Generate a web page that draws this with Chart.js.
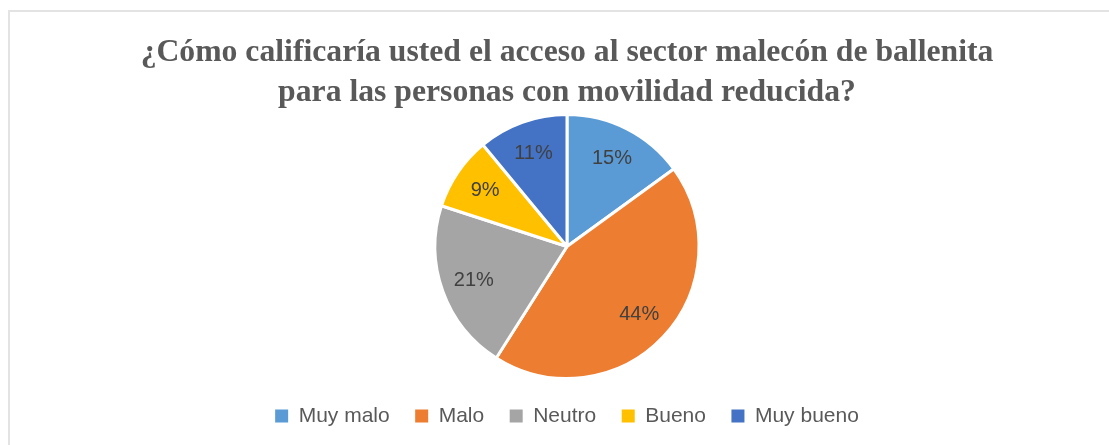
<!DOCTYPE html>
<html>
<head>
<meta charset="utf-8">
<script src="https://cdn.jsdelivr.net/npm/chart.js@4.4.1/dist/chart.umd.min.js"></script>
<style>
  html, body { margin: 0; padding: 0; background: #ffffff; overflow: hidden; }
  #frame { position: absolute; left: 8px; top: 10px; width: 1120px; height: 450px;
           border: 2px solid #e3e3e3; box-sizing: border-box; }
  #c { position: absolute; left: 0; top: 0; }
</style>
</head>
<body>
<div id="frame"></div>
<canvas id="c" width="1109" height="445"></canvas>
<script>
const titleLines = [
  "¿Cómo calificaría usted el acceso al sector malecón de ballenita",
  "para las personas con movilidad reducida?"
];
const categories = ["Muy malo", "Malo", "Neutro", "Bueno", "Muy bueno"];
const percentages = [15, 44, 21, 9, 11];
const sliceColors = ["#5B9BD5", "#ED7D31", "#A5A5A5", "#FFC000", "#4472C4"];

const pctLabels = {
  id: 'pctLabels',
  afterDatasetsDraw(chart) {
    const ctx = chart.ctx;
    const meta = chart.getDatasetMeta(0);
    const data = chart.data.datasets[0].data;
    ctx.save();
    ctx.font = '20px "Liberation Sans", Arial, sans-serif';
    ctx.fillStyle = '#404040';
    ctx.textAlign = 'center';
    ctx.textBaseline = 'middle';
    meta.data.forEach((arc, i) => {
      const p = arc.getProps(['x', 'y', 'startAngle', 'endAngle', 'outerRadius'], true);
      const mid = (p.startAngle + p.endAngle) / 2;
      const r = p.outerRadius * 0.75;
      ctx.fillText(data[i] + '%', p.x + Math.cos(mid) * r, p.y + Math.sin(mid) * r);
    });
    ctx.restore();
  }
};

new Chart(document.getElementById('c'), {
  type: 'pie',
  data: {
    labels: categories,
    datasets: [{
      data: percentages,
      backgroundColor: sliceColors,
      borderColor: '#ffffff',
      borderWidth: 3,
      radius: 132
    }]
  },
  options: {
    responsive: false,
    animation: false,
    devicePixelRatio: 1,
    layout: { padding: { left: 25, right: 0, top: 0, bottom: 8.5 } },
    plugins: {
      title: {
        display: true,
        text: titleLines,
        color: '#595959',
        font: { family: '"Liberation Serif", "Times New Roman", serif', size: 31.7, weight: 'bold', lineHeight: 40 / 31.7 },
        padding: { top: 33, bottom: 0 }
      },
      legend: {
        display: true,
        position: 'bottom',
        labels: {
          color: '#595959',
          font: { family: '"Liberation Sans", Arial, sans-serif', size: 21 },
          boxWidth: 13,
          boxHeight: 13,
          padding: 25.5,
          generateLabels(chart) {
            const items = Chart.overrides.pie.plugins.legend.labels.generateLabels(chart);
            items.forEach(it => { it.lineWidth = 0; it.strokeStyle = 'rgba(0,0,0,0)'; });
            return items;
          }
        }
      },
      tooltip: { enabled: false }
    }
  },
  plugins: [pctLabels]
});
</script>
</body>
</html>
